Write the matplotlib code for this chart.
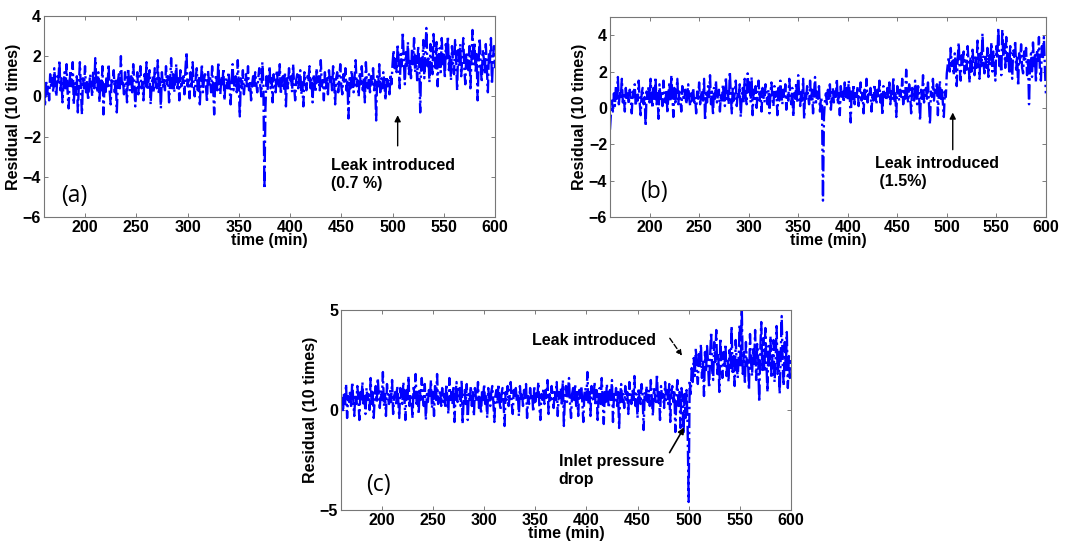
import numpy as np
import matplotlib
matplotlib.use("Agg")
import matplotlib.pyplot as plt

plt.rcParams['font.family'] = ['Liberation Sans', 'DejaVu Sans']

# time axis, one reading per minute
time_min = np.arange(160, 601)

# panel (a): leak 0.7 %
resid_a = [
    0.3, -0.5, 0.8, 0.1, 0.6, -0.2, 1.1, 0.4, 0.9, 0.2, 1.4, 0.5, 0.0, 1.0, 0.7, 1.8, 0.3, 0.9, -0.3, 0.6,
    1.2, 0.4, 1.6, 0.2, -0.6, 0.8, 1.3, 0.5, 1.7, -0.4, 0.7, 0.1, 1.0, -0.8, 0.6, 1.7, 0.3, -0.9, 0.9, 0.4,
    1.5, 0.2, 0.8, -0.2, 0.5, 1.1, 0.6, 0.0, 1.3, 0.4, 1.9, 0.7, 0.2, 1.2, -0.3, 0.9, 0.3, 1.5, -0.9, 0.6,
    0.1, 1.0, 0.5, 1.6, 0.3, -0.4, 0.8, 0.6, 1.3, 0.2, 0.9, -0.8, 0.7, 1.1, 0.4, 2.0, 0.5, 0.8, 0.1, 1.2,
    0.6, -0.3, 1.4, 0.7, 0.3, 1.0, 0.2, 1.6, 0.8, -0.5, 0.6, 1.2, 0.1, 0.9, 1.5, 0.4, 0.7, -0.2, 1.1, 0.5,
    1.7, 0.3, 0.8, 1.3, -0.4, 0.6, 1.0, 0.2, 1.4, 0.7, 0.4, 1.8, 0.1, 0.9, -0.6, 1.2, 0.5, 0.8, 0.3, 1.5,
    0.6, 1.0, -0.3, 0.7, 1.9, 0.4, 1.1, 0.2, 0.8, 1.6, 0.3, 0.9, -0.2, 1.3, 0.5, 0.7, 1.0, 0.1, 1.4, 2.2,
    0.5, 0.8, -0.1, 1.2, 0.4, 1.7, 0.6, 0.0, 0.9, 1.4, 0.3, 1.0, -0.4, 0.7, 1.6, 0.2, 0.8, 1.1, 0.5, -0.3,
    1.3, 0.6, 0.9, 0.2, 1.5, 0.4, -0.9, 0.8, 1.1, 0.3, 1.7, 0.5, 0.1, 1.0, 0.6, 1.4, -0.2, 0.7, 0.9, 0.4,
    1.2, 0.5, -0.4, 0.8, 1.6, 0.3, 0.7, 1.0, 0.2, 1.8, 0.6, -1.0, 0.9, 0.4, 1.3, 0.1, 0.7, 1.1, 0.5, 1.5,
    0.3, 0.8, -0.2, 0.6, 1.0, 0.4, 1.2, 0.7, 0.2, 0.9, 1.4, 0.5, 0.0, 1.7, 0.6, -4.6, -0.6, 1.0, 0.3, 0.8,
    1.5, 0.4, 0.9, -0.3, 1.1, 0.6, 0.2, 1.3, 0.8, 0.5, 1.6, 0.1, 0.7, 1.0, 0.3, 1.2, -0.5, 0.9, 0.4, 1.4,
    0.7, 1.0, 0.2, 1.6, 0.5, -0.2, 0.8, 1.1, 0.4, 0.9, 1.3, 0.1, 0.7, -0.5, 1.2, 0.6, 0.3, 1.0, 0.8, 1.5,
    0.4, 0.9, -0.3, 1.1, 0.6, 0.2, 1.4, 0.7, 1.0, 0.3, 1.8, 0.5, 0.8, -0.2, 1.2, 0.4, 0.9, 0.1, 1.3, 0.6,
    1.0, 0.3, 1.5, 0.7, -0.4, 0.9, 1.2, 0.2, 0.8, 1.6, 0.5, 0.1, 1.1, 0.6, 1.4, 0.3, 0.8, -1.1, 0.9, 0.4,
    1.3, 0.7, 0.2, 1.0, 1.8, 0.5, 0.8, 0.0, 1.2, 0.6, 1.5, 0.3, 0.9, -0.3, 1.7, 0.7, 0.4, 1.1, 0.2, 1.0,
    0.6, 1.4, 0.3, 0.8, -1.2, 1.0, 0.5, 1.6, 0.2, 0.9, 0.4, 1.2, 0.7, -0.2, 1.0, 0.5, 0.8, 0.1, 1.1, 0.6,
    1.6, 2.3, 1.4, 2.0, 1.2, 2.6, 1.7, 0.4, 2.1, 1.5, 3.2, 1.8, 0.6, 2.2, 1.4, 2.7, 1.1, 1.9, 0.9, 2.4,
    1.6, 2.9, 1.2, 2.0, 0.8, 2.5, 1.7, -0.8, 1.9, 1.3, 2.8, 0.9, 2.2, 3.4, 1.5, 2.0, 0.7, 2.6, 1.8, 1.1,
    3.1, 2.0, 1.4, 2.7, 0.5, 1.9, 2.4, 1.2, 2.9, 1.6, 2.2, 0.9, 2.6, 1.8, 3.0, 1.3, 2.1, 0.8, 2.5, 1.7,
    1.1, 2.8, 1.9, 0.3, 2.3, 1.5, 2.6, 1.0, 2.0, 2.9, 1.4, 0.6, 2.2, 1.8, 1.3, 2.5, 0.4, 1.9, 3.3, 1.6,
    2.7, 1.2, 2.1, -0.2, 1.8, 2.9, 1.5, 0.7, 2.3, 1.9, 1.1, 2.6, 1.4, 0.2, 2.2, 1.7, 2.9, 0.6, 1.9, 2.5,
    1.4,
]

# panel (b): leak 1.5 %
resid_b = [
    -1.2, -0.3, 0.4, -0.2, 0.8, 0.1, 1.2, 0.5, 1.7, 0.2, 0.9, 0.6, 1.6, 0.3, 0.7, -0.2, 1.1, 0.4, 0.8, 0.2,
    1.0, 0.5, -0.3, 0.9, 0.6, 1.3, 0.1, 0.7, 0.4, 1.5, 0.3, -0.4, 0.8, 1.1, 0.2, 0.6, -1.0, 0.9, 0.5, 1.2,
    0.3, 1.6, 0.6, 0.0, 1.1, 0.4, 1.7, 0.2, 0.8, -0.6, 1.3, 0.5, 0.9, 0.1, 1.5, 0.7, 0.3, 1.0, -0.3, 0.8,
    1.4, 0.4, 1.8, 0.6, -0.5, 1.1, 0.3, 0.8, 1.6, 0.2, 0.9, 0.5, -0.2, 1.2, 0.6, 0.4, 1.0, 0.2, 0.7, 1.3,
    0.5, 0.1, 0.8, 0.4, 1.1, 0.3, 0.6, -0.3, 0.9, 0.5, 1.4, 0.2, 0.7, 1.0, 0.4, 1.6, -0.7, 0.8, 0.3, 1.2,
    0.6, 1.8, 0.2, 0.9, -0.4, 1.1, 0.5, 1.5, 0.3, 0.7, 1.0, -0.2, 0.8, 0.4, 1.3, 0.6, 0.1, 1.7, 0.5, 0.9,
    0.2, 2.0, 0.7, -0.3, 1.2, 0.4, 0.8, 1.5, 0.1, 0.9, 0.5, 1.3, -0.5, 0.7, 1.1, 0.3, 1.6, 0.6, 0.2, 1.9,
    0.8, 1.4, 0.3, 1.7, -0.4, 1.0, 0.5, 1.2, 0.0, 0.8, 1.5, 0.4, 0.9, -0.2, 1.1, 0.6, 0.3, 1.3, 0.7, 0.2,
    1.0, -0.3, 0.8, 1.4, 0.5, 0.1, 1.2, 0.6, 0.9, -0.4, 1.1, 0.4, 1.5, 0.7, 0.2, 1.0, 0.5, 1.3, -0.1, 0.8,
    0.4, 1.6, 0.7, 0.2, 1.1, -0.5, 0.9, 0.5, 1.4, 0.3, 1.8, 0.6, 0.1, 1.0, 0.4, 1.6, -0.6, 0.9, 0.5, 1.2,
    0.7, 0.2, 1.5, 0.4, 1.0, -0.3, 0.8, 1.7, 0.3, 0.9, 0.5, 1.2, -0.2, 0.6, 0.3, -5.1, -0.5, 0.4, 0.8, 0.2,
    1.0, 0.5, 1.3, -0.1, 0.7, 1.1, 0.3, 0.9, 0.6, 1.6, 0.2, 0.8, -0.4, 1.2, 0.5, 0.9, 0.3, 1.4, 0.6, 1.1,
    0.4, 1.5, 0.8, -0.8, 1.0, 0.5, 1.3, 0.2, 0.9, 0.6, 1.2, 0.1, 0.7, 1.4, 0.4, 0.8, -0.3, 1.0, 0.5, 1.6,
    0.3, 0.9, 0.6, 1.1, -0.2, 0.8, 0.4, 1.3, 0.7, 0.2, 1.0, 0.5, 1.5, 0.3, 0.9, -0.4, 1.2, 0.6, 0.8, 0.4,
    1.1, 0.6, 1.4, 0.2, 0.9, 0.5, 1.7, 0.3, 0.8, -0.5, 1.2, 0.7, 0.4, 1.0, 0.6, 1.6, 0.2, 0.9, 0.5, 2.1,
    0.7, 0.3, 1.3, 0.8, -0.3, 1.1, 0.6, 0.4, 1.5, 0.9, 0.2, 1.2, 0.7, -0.7, 1.0, 0.5, 1.8, 0.3, 0.8, 1.1,
    0.5, 1.4, 0.2, -0.9, 0.9, 0.6, 1.6, 0.4, 1.0, 0.7, 1.3, -0.4, 0.8, 1.5, 0.5, 1.1, 0.3, -0.5, 0.9, 0.6,
    1.9, 2.4, 2.8, 2.0, 3.3, 2.3, 2.6, 1.8, 3.0, 2.4, 1.2, 2.7, 3.6, 2.2, 1.5, 2.9, 2.3, 3.1, 1.9, 2.6,
    2.1, 3.4, 2.5, 1.4, 2.8, 2.0, 3.2, 2.4, 1.8, 2.9, 2.2, 3.7, 2.6, 1.6, 3.0, 2.3, 4.1, 2.5, 1.9, 2.8,
    2.2, 3.3, 1.7, 2.9, 2.4, 3.6, 2.0, 3.1, 2.6, 1.5, 3.4, 2.7, 4.4, 2.3, 3.0, 1.8, 4.3, 2.8, 3.5, 2.2,
    3.9, 2.6, 3.1, 2.0, 3.4, 2.4, 1.6, 3.2, 2.8, 3.7, 2.1, 2.9, 1.2, 3.0, 2.5, 3.5, 2.2, 1.9, 3.1, 2.6,
    3.3, 1.8, 2.7, 0.2, 2.4, 3.0, 1.7, 3.6, 2.3, 2.9, 1.4, 3.2, 2.6, 3.9, 2.0, 1.5, 3.4, 2.7, 3.9, 2.2,
    0.8,
]

# panel (c): leak with inlet pressure drop
resid_c = [
    0.2, 0.6, -0.1, 0.9, 0.3, 1.3, -0.4, 0.7, 0.4, 1.0, 0.1, 1.4, 0.5, -0.3, 0.8, 0.3, 1.2, 0.6, -0.5, 0.9,
    0.4, 1.4, 0.2, 0.7, -0.2, 1.1, 0.5, 0.8, 0.0, 1.6, 0.3, 0.9, -0.4, 0.6, 1.2, 0.4, 1.6, 0.7, 0.1, 1.0,
    0.5, 1.9, 0.2, 0.8, -0.3, 1.3, 0.6, 0.3, 1.0, 0.4, 1.5, -0.2, 0.7, 0.9, 0.2, 1.2, 0.5, -0.4, 1.1, 0.6,
    0.3, 1.4, 0.7, -0.5, 1.0, 0.4, 1.7, 0.2, 0.8, 0.5, -0.4, 1.2, 0.6, 1.8, 0.3, 0.9, -0.2, 1.1, 0.5, 1.6,
    0.7, 0.2, 1.3, -0.5, 0.8, 0.4, 1.0, 0.6, 1.5, 0.1, 0.9, -0.3, 1.2, 0.5, 1.8, 0.3, 0.7, 1.0, 0.2, 1.1,
    0.4, 0.8, 0.1, 1.3, 0.6, -0.2, 1.6, 0.5, 0.9, 0.3, 1.2, -0.6, 0.7, 1.4, 0.4, 0.8, 1.1, 0.2, 1.5, -0.7,
    0.6, 1.0, 0.3, 1.3, -0.5, 0.8, 0.5, 1.2, 0.2, 0.9, -0.3, 1.1, 0.6, 0.4, 1.4, 0.1, 0.7, -0.2, 1.0, 0.5,
    1.3, 0.3, 0.8, -0.4, 1.1, 0.6, 0.2, 0.9, 1.2, 0.4, -0.6, 0.7, 1.0, 0.3, 1.3, 0.5, 0.0, 0.8, 1.1, 0.4,
    -0.8, 0.9, 0.5, 1.2, 0.2, 0.7, 1.4, 0.3, -0.2, 1.0, 0.6, 1.1, 0.4, 0.8, -0.3, 1.2, 0.5, 0.9, 0.2, 1.0,
    0.6, 1.3, -0.4, 0.7, 0.3, 1.1, 0.5, 0.8, -0.1, 1.2, 0.4, 0.9, 0.6, 1.4, 0.2, -0.5, 0.8, 0.5, 1.1, 0.3,
    1.0, 0.6, 1.5, -0.2, 0.8, 0.4, 1.2, 0.7, 0.1, 1.0, 0.5, 1.4, -0.3, 0.9, 0.6, 1.1, 0.2, 1.5, -0.8, 0.7,
    1.2, 0.4, 0.9, 1.6, 0.3, -0.4, 0.8, 1.1, 0.5, 1.3, 0.2, 0.9, -0.3, 1.0, 0.6, 1.2, 0.4, -0.6, 0.8, 1.1,
    0.5, 1.9, 0.3, 0.9, -0.3, 1.2, 0.6, 0.4, 1.4, 0.2, 1.0, -0.5, 0.7, 1.1, 0.3, 1.6, 0.5, -0.7, 0.9, 0.4,
    1.3, 0.6, 0.1, 1.0, 0.4, 1.5, -0.6, 0.8, 0.5, 1.1, 0.2, 0.9, -0.9, 0.7, 1.3, 0.4, 0.8, 0.1, 1.2, 0.5,
    0.9, -0.2, 1.4, 0.6, 0.3, 1.0, 0.5, 1.7, 0.2, 0.8, -0.4, 1.1, 0.6, 0.3, 1.3, 0.7, -1.0, 0.9, 0.5, 1.2,
    0.4, 1.0, 0.2, 1.5, 0.6, -0.3, 1.1, 0.7, 0.4, 1.8, 0.3, 0.9, -0.5, 1.2, 0.6, 0.8, 0.1, 1.4, 0.5, 1.0,
    0.3, 1.3, -0.6, 0.8, 1.2, 0.4, 1.0, -1.1, 0.7, 1.5, 0.2, 0.9, -0.9, 1.1, 0.5, -1.2, 0.8, -0.4, 1.0, -0.9,
    -4.6, 1.5, 0.8, 2.1, 1.4, 2.6, 1.7, 3.1, 2.0, 1.3, 2.8, 2.2, 3.3, 1.6, 2.5, 0.7, 2.9, 1.9, 3.2, 2.3,
    1.1, 2.7, 3.9, 2.0, 1.5, 3.4, 2.4, 4.0, 1.8, 2.8, 0.9, 3.6, 2.2, 1.6, 2.9, 2.1, 3.3, 1.7, 2.6, 1.4,
    3.0, 2.0, 4.2, 1.9, 2.7, 1.2, 3.5, 2.3, 1.6, 2.8, 4.3, 2.1, 5.0, 1.8, 2.9, 1.3, 3.4, 2.2, 2.6, 1.0,
    3.8, 2.4, 1.7, 3.1, 2.2, 4.0, 1.5, 3.3, 2.6, 0.4, 2.9, 4.4, 2.0, 3.6, 1.9, 4.1, 2.5, 0.9, 3.2, 2.1,
    3.7, 1.6, 2.8, 3.5, 1.4, 2.4, 4.2, 1.8, 3.0, 0.8, 2.6, 4.7, 2.2, 1.2, 3.4, 2.0, 3.9, 1.1, 2.7, 1.6,
    2.5,
]

x_ticks = [200, 250, 300, 350, 400, 450, 500, 550, 600]


def style_axes(ax, ylim, yticks):
    ax.set_xlim(160, 600)
    ax.set_ylim(*ylim)
    ax.set_xticks(x_ticks)
    ax.set_yticks(yticks)
    ax.tick_params(direction='in', length=3, width=0.6, color='#666666',
                   top=True, right=True, labelsize=11.5, pad=2)
    for lab in ax.get_xticklabels() + ax.get_yticklabels():
        lab.set_fontweight('bold')
    for sp in ax.spines.values():
        sp.set_color('#777777')
        sp.set_linewidth(0.8)
    ax.set_xlabel('time (min)', fontsize=11.5, fontweight='bold', labelpad=-1)
    ax.set_ylabel('Residual (10 times)', fontsize=11.5, fontweight='bold', labelpad=1)


fig = plt.figure(figsize=(10.79, 5.48), dpi=100)
ax_a = fig.add_axes([0.0408, 0.604, 0.418, 0.367])
ax_b = fig.add_axes([0.5653, 0.604, 0.404, 0.365])
ax_c = fig.add_axes([0.316, 0.0693, 0.417, 0.365])

line_kw = dict(color='#0000ff', linestyle='-.', linewidth=1.7)

# (a)
ax_a.plot(time_min, resid_a, **line_kw)
style_axes(ax_a, (-6, 4), [-6, -4, -2, 0, 2, 4])
ax_a.text(177, -4.95, '(a)', fontsize=16.5, family='Open Sans', va='center')
ax_a.text(440, -3.9, 'Leak introduced\n(0.7 %)', fontsize=11.5, fontweight='bold',
          va='center', linespacing=1.25)
ax_a.annotate('', xy=(505, -0.8), xytext=(505, -2.6),
              arrowprops=dict(arrowstyle='-|>', color='black', lw=1.0, mutation_scale=9))

# (b)
ax_b.plot(time_min, resid_b, **line_kw)
style_axes(ax_b, (-6, 5), [-6, -4, -2, 0, 2, 4])
ax_b.text(190, -4.6, '(b)', fontsize=16.5, family='Open Sans', va='center')
ax_b.text(428, -3.55, 'Leak introduced\n (1.5%)', fontsize=11.5, fontweight='bold',
          va='center', linespacing=1.25)
ax_b.annotate('', xy=(506, -0.1), xytext=(506, -2.45),
              arrowprops=dict(arrowstyle='-|>', color='black', lw=1.0, mutation_scale=9))

# (c)
ax_c.plot(time_min, resid_c, **line_kw)
style_axes(ax_c, (-5, 5), [-5, 0, 5])
ax_c.text(185, -3.75, '(c)', fontsize=16.5, family='Open Sans', va='center')
ax_c.text(347, 3.5, 'Leak introduced', fontsize=11.5, fontweight='bold', va='center')
ax_c.annotate('', xy=(495, 2.6), xytext=(480, 3.7),
              arrowprops=dict(arrowstyle='-|>', color='black', lw=1.0, linestyle='--',
                              mutation_scale=8))
ax_c.text(373, -3.0, 'Inlet pressure\ndrop', fontsize=11.5, fontweight='bold',
          va='center', linespacing=1.25)
ax_c.annotate('', xy=(497, -0.75), xytext=(480, -2.25),
              arrowprops=dict(arrowstyle='-|>', color='black', lw=1.2, mutation_scale=9))

fig.savefig('out.png', dpi=100)
